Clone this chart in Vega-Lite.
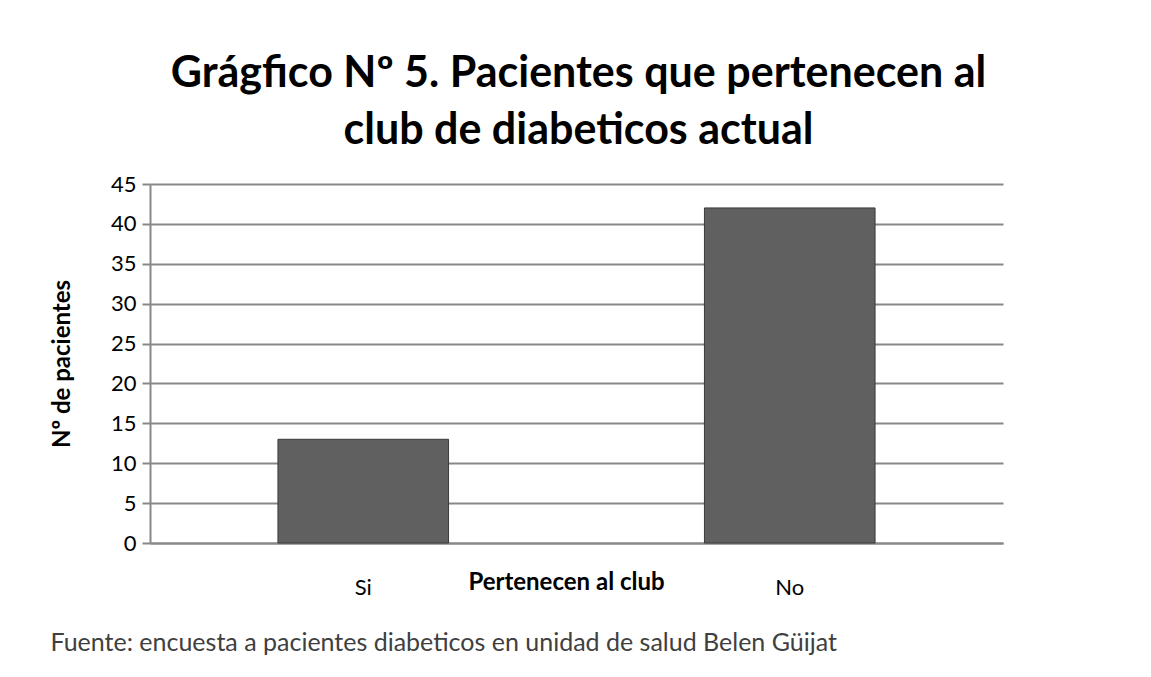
{
  "$schema": "https://vega.github.io/schema/vega-lite/v6.json",
  "background": "white",
  "padding": {"left": 50, "top": 53, "right": 10, "bottom": 10},
  "title": {
    "text": ["Grágfico Nº 5. Pacientes que pertenecen al", "club de diabeticos actual"],
    "font": "Lato",
    "fontSize": 43,
    "fontWeight": "bold",
    "lineHeight": 57,
    "anchor": "middle",
    "frame": "group",
    "dx": 2,
    "offset": 20,
    "color": "black"
  },
  "data": {
    "values": [
      {"club": "Si", "pacientes": 13},
      {"club": "No", "pacientes": 42}
    ]
  },
  "vconcat": [
    {
      "width": 853,
      "height": 359,
      "title": {
        "text": "Fuente: encuesta a pacientes diabeticos en unidad de salud Belen Güijat",
        "orient": "bottom",
        "anchor": "start",
        "frame": "bounds",
        "font": "Lato",
        "fontSize": 25,
        "fontWeight": "normal",
        "color": "#404040",
        "offset": 33
      },
      "mark": {"type": "bar", "fill": "#606060", "stroke": "#3a3a3a", "strokeWidth": 1},
      "encoding": {
        "x": {
          "field": "club",
          "type": "nominal",
          "sort": ["Si", "No"],
          "scale": {"paddingInner": 0.6, "paddingOuter": 0.3},
          "axis": {
            "title": "Pertenecen al club",
            "titleFont": "Lato",
            "titleFontSize": 24,
            "titleFontWeight": "bold",
            "titleColor": "black",
            "titleY": 39,
            "titleX": 416,
            "titleBaseline": "middle",
            "labelAngle": 0,
            "labelFont": "Lato",
            "labelFontSize": 22,
            "labelColor": "black",
            "labelPadding": 34,
            "ticks": false,
            "domainColor": "#888888",
            "domainWidth": 2
          }
        },
        "y": {
          "field": "pacientes",
          "type": "quantitative",
          "scale": {"domain": [0, 45], "nice": false},
          "axis": {
            "title": "Nº de pacientes",
            "titleFont": "Lato",
            "titleFontSize": 24,
            "titleFontWeight": "bold",
            "titleColor": "black",
            "titlePadding": 36,
            "values": [0, 5, 10, 15, 20, 25, 30, 35, 40, 45],
            "labelFont": "Lato",
            "labelFontSize": 22,
            "labelColor": "black",
            "labelPadding": 6,
            "tickSize": 8,
            "tickColor": "#888888",
            "tickWidth": 2,
            "domainColor": "#888888",
            "domainWidth": 2,
            "grid": true,
            "gridColor": "#888888",
            "gridWidth": 2
          }
        }
      }
    }
  ],
  "config": {"view": {"stroke": null}}
}
